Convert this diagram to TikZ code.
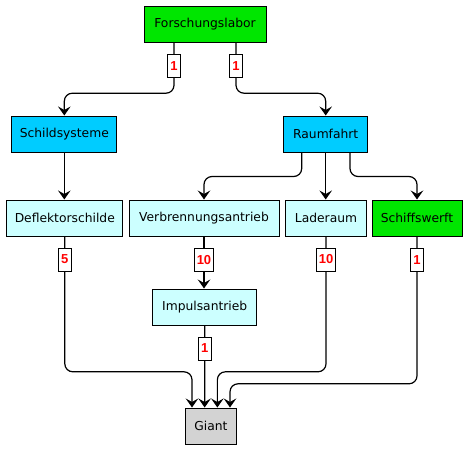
\documentclass[tikz,border=0pt]{standalone}
\usepackage{fontspec}
\setmainfont{DejaVu Sans}
\newfontfamily\lblfont{Liberation Sans}
\usetikzlibrary{arrows.meta}
\definecolor{grn}{RGB}{0,230,0}
\definecolor{blu}{RGB}{0,204,255}
\definecolor{cyn}{RGB}{204,255,255}
\definecolor{gry}{RGB}{211,211,211}
\begin{document}
\begin{tikzpicture}[x=1pt,y=-1pt,
  box/.style={draw=black,line width=1pt,minimum height=36pt,inner sep=0pt,font=\fontsize{12.3}{14}\selectfont},
  lbl/.style={draw=black,fill=white,sharp corners,line width=0.9pt,text=red,font=\lblfont\bfseries\fontsize{13}{15}\selectfont,minimum height=23pt,minimum width=13pt,inner xsep=2pt,inner ysep=0pt},
  arr/.style={line width=1.2pt,rounded corners=8pt,-{Stealth[length=9pt,width=12.5pt,inset=3.5pt]}}]
\useasboundingbox (0,0) rectangle (469,451);
\node[box,fill=grn,minimum width=122pt] (forsch) at (205,24) {Forschungslabor};
\node[box,fill=blu,minimum width=105pt] (schild) at (64.3,134) {Schildsysteme};
\node[box,fill=blu,minimum width=84pt] (raum) at (325.7,134) {Raumfahrt};
\node[box,fill=cyn,minimum width=116pt] (deflek) at (64.8,218) {Deflektorschilde};
\node[box,fill=cyn,minimum width=150pt] (verbr) at (204,218) {Verbrennungsantrieb};
\node[box,fill=cyn,minimum width=81pt] (lader) at (326,218) {Laderaum};
\node[box,fill=grn,minimum width=90pt] (schiff) at (417,218) {Schiffswerft};
\node[box,fill=cyn,minimum width=104pt] (impuls) at (204.7,307) {Impulsantrieb};
\node[box,fill=gry,minimum width=51pt] (giant) at (211,426) {Giant};

\draw[arr] ([xshift=-31pt]forsch.south) -- ++(0,50.7) node[lbl,pos=0.47] (l1) {1} -| (schild.north);
\draw[arr] ([xshift=31pt]forsch.south) -- ++(0,50.7) node[lbl,pos=0.47] (l2) {1} -| (raum.north);
\draw[arr] (schild.south) -- (schild.south |- deflek.north);
\draw[arr] ([xshift=-24pt]raum.south) -- ++(0,24) -| (verbr.north);
\draw[arr] (raum.south) -- (raum.south |- lader.north);
\draw[arr] ([xshift=24.3pt]raum.south) -- ++(0,24) -| (schiff.north);
\draw[arr] (verbr.south) -- node[lbl,pos=0.445] (l3) {10} (verbr.south |- impuls.north);
\draw[arr] (deflek.south) -- ++(0,135.3) node[lbl,pos=0.17] (l4) {5} -| ([xshift=-19pt]giant.north);
\draw[arr] (impuls.south) -- node[lbl,pos=0.28] (l5) {1} ([xshift=-6.35pt]giant.north);
\draw[arr] (lader.south) -- ++(0,135.3) node[lbl,pos=0.17] (l6) {10} -| ([xshift=6.35pt]giant.north);
\draw[arr] (schiff.south) -- ++(0,147.3) node[lbl,pos=0.158] (l7) {1} -| ([xshift=19pt]giant.north);
\end{tikzpicture}
\end{document}
